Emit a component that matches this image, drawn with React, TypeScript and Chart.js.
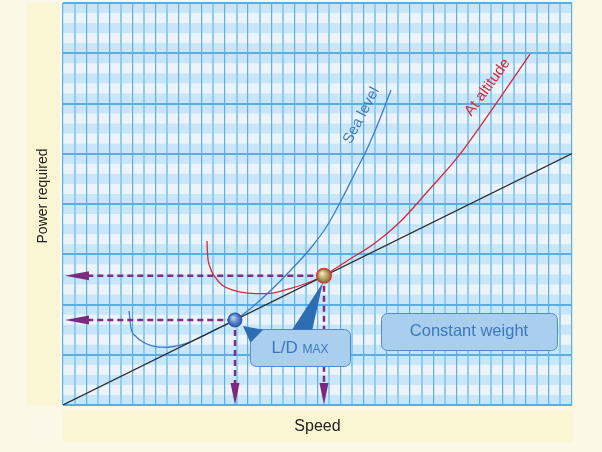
import React, { useEffect, useRef } from 'react';
import { Chart, registerables } from 'chart.js';

Chart.register(...registerables);

// ---- grid extents (grid units) ----
const X_MAX = 44;
const Y_MAX = 40;

// ---- data ----
const tangentLine = [
  { x: 0, y: 0 },
  { x: 44, y: 25.02 },
];

const seaLevel = [
  { x: 5.71, y: 9.35 }, { x: 5.88, y: 7.66 }, { x: 6.31, y: 6.82 }, { x: 6.91, y: 6.27 },
  { x: 7.78, y: 5.87 }, { x: 8.9, y: 5.74 }, { x: 10.37, y: 6.02 }, { x: 11.84, y: 6.72 },
  { x: 13.31, y: 7.56 }, { x: 14.87, y: 8.46 }, { x: 16.16, y: 9.55 }, { x: 17.63, y: 11.04 },
  { x: 19.45, y: 13.13 }, { x: 21.35, y: 15.52 }, { x: 22.82, y: 17.81 }, { x: 24.2, y: 20.7 },
  { x: 25.41, y: 23.48 }, { x: 26.28, y: 25.47 }, { x: 27.32, y: 28.26 }, { x: 28.35, y: 31.34 },
];

const atAltitude = [
  { x: 12.45, y: 16.32 }, { x: 12.49, y: 15.12 }, { x: 12.71, y: 13.73 }, { x: 13.14, y: 12.74 },
  { x: 13.74, y: 11.94 }, { x: 14.69, y: 11.44 }, { x: 15.99, y: 11.14 }, { x: 17.63, y: 11.09 },
  { x: 19.62, y: 11.59 }, { x: 21.35, y: 12.24 }, { x: 22.56, y: 12.89 }, { x: 24.81, y: 14.53 },
  { x: 26.8, y: 15.97 }, { x: 29.13, y: 18.21 }, { x: 31.55, y: 21.29 }, { x: 34.06, y: 24.58 },
  { x: 37.17, y: 29.55 }, { x: 40.37, y: 34.92 },
];

const ldMaxSea = { x: 14.87, y: 8.46 };
const ldMaxAlt = { x: 22.56, y: 12.86 };

const ARROW_LEFT_X = 0.17;
const ARROW_BASE_X = 2.1;
const ARROW_BASE_Y = 2.0;

const hDashSea = [{ x: ARROW_BASE_X, y: ldMaxSea.y }, ldMaxSea];
const hDashAlt = [{ x: ARROW_BASE_X, y: ldMaxAlt.y }, ldMaxAlt];
const vDashSea = [ldMaxSea, { x: ldMaxSea.x, y: ARROW_BASE_Y }];
const vDashAlt = [ldMaxAlt, { x: ldMaxAlt.x, y: ARROW_BASE_Y }];

const leftArrowTips = [{ x: ARROW_LEFT_X, y: ldMaxSea.y }, { x: ARROW_LEFT_X, y: ldMaxAlt.y }];
const downArrowTips = [{ x: ldMaxSea.x, y: 0 }, { x: ldMaxAlt.x, y: 0 }];

// annotation boxes (data coords)
const ldBox = { x0: 16.16, x1: 24.81, y0: 7.56, y1: 3.88 };
const cwBox = { x0: 27.49, x1: 42.7, y0: 9.15, y1: 5.47 };
const bigPointer = [{ x: 22.47, y: 12.2 }, { x: 19.8, y: 7.5 }, { x: 21.55, y: 7.5 }];
const smallPointer = [{ x: 15.56, y: 7.86 }, { x: 17.3, y: 7.5 }, { x: 16.2, y: 6.2 }];

const seaLabel = { x: 25.8, y: 28.8, angle: -62, text: 'Sea level' };
const altLabel = { x: 36.7, y: 31.6, angle: -54, text: 'At altitude' };

const FONT = '"Liberation Sans", Arial, Helvetica, sans-serif';
const BLUE_TEXT = '#3B78BF';

function roundRect(ctx: CanvasRenderingContext2D, x: number, y: number, w: number, h: number, r: number) {
  ctx.beginPath();
  ctx.moveTo(x + r, y);
  ctx.lineTo(x + w - r, y);
  ctx.arcTo(x + w, y, x + w, y + r, r);
  ctx.lineTo(x + w, y + h - r);
  ctx.arcTo(x + w, y + h, x + w - r, y + h, r);
  ctx.lineTo(x + r, y + h);
  ctx.arcTo(x, y + h, x, y + h - r, r);
  ctx.lineTo(x, y + r);
  ctx.arcTo(x, y, x + r, y, r);
  ctx.closePath();
}

const decorPlugin = {
  id: 'decor',
  beforeDraw(chart: any) {
    const { ctx, chartArea: a, scales } = chart;
    const ys = scales.y;
    ctx.save();
    ctx.fillStyle = '#FCF8E8';
    ctx.fillRect(0, 0, chart.width, chart.height);
    ctx.fillStyle = '#FAF5D2';
    ctx.fillRect(a.left - 36, a.top, 32, a.bottom - a.top);
    ctx.fillRect(a.left, a.bottom + 6, a.right - a.left + 1, 31);
    ctx.fillStyle = '#EDF3FB';
    ctx.fillRect(a.left, a.top, a.right - a.left, a.bottom - a.top);
    ctx.fillStyle = '#C8E6F8';
    for (let k = 0; k < Y_MAX; k++) {
      if ((k % 5) % 2 === 0) {
        const yt = ys.getPixelForValue(k + 1);
        const yb = ys.getPixelForValue(k);
        ctx.fillRect(a.left, yt, a.right - a.left, yb - yt);
      }
    }
    ctx.restore();
  },
  afterDraw(chart: any) {
    const { ctx, chartArea: a, scales } = chart;
    const xs = scales.x;
    const ys = scales.y;
    const px = (v: number) => xs.getPixelForValue(v);
    const py = (v: number) => ys.getPixelForValue(v);
    ctx.save();

    // arrowheads
    ctx.fillStyle = '#7B2A82';
    for (const t of leftArrowTips) {
      const x = px(t.x), y = py(t.y);
      ctx.beginPath();
      ctx.moveTo(x, y);
      ctx.lineTo(x + 24, y - 4.5);
      ctx.lineTo(x + 24, y + 4.5);
      ctx.closePath();
      ctx.fill();
    }
    for (const t of downArrowTips) {
      const x = px(t.x), y = py(t.y);
      ctx.beginPath();
      ctx.moveTo(x, y);
      ctx.lineTo(x - 4.5, y - 22);
      ctx.lineTo(x + 4.5, y - 22);
      ctx.closePath();
      ctx.fill();
    }

    // boxes
    const drawBox = (b: any) => {
      const x0 = px(b.x0), x1 = px(b.x1), y0 = py(b.y0), y1 = py(b.y1);
      roundRect(ctx, x0 + 0.5, y0 + 0.5, x1 - x0, y1 - y0, 6);
      ctx.fillStyle = '#A9CEEE';
      ctx.fill();
      ctx.strokeStyle = '#4F8DCB';
      ctx.lineWidth = 1;
      ctx.stroke();
    };
    drawBox(ldBox);
    drawBox(cwBox);

    // pointers
    ctx.fillStyle = '#2E6DB4';
    for (const tri of [bigPointer, smallPointer]) {
      ctx.beginPath();
      ctx.moveTo(px(tri[0].x), py(tri[0].y));
      ctx.lineTo(px(tri[1].x), py(tri[1].y));
      ctx.lineTo(px(tri[2].x), py(tri[2].y));
      ctx.closePath();
      ctx.fill();
    }

    // dots
    const dot = (p: any, inner: string, mid: string, outer: string, border: string, r: number, bw: number) => {
      const x = px(p.x), y = py(p.y);
      const g = ctx.createRadialGradient(x - r * 0.3, y - r * 0.35, r * 0.1, x, y, r);
      g.addColorStop(0, inner);
      g.addColorStop(0.55, mid);
      g.addColorStop(1, outer);
      ctx.beginPath();
      ctx.arc(x, y, r, 0, Math.PI * 2);
      ctx.fillStyle = g;
      ctx.fill();
      ctx.lineWidth = bw;
      ctx.strokeStyle = border;
      ctx.stroke();
    };
    dot(ldMaxSea, '#B9CFF0', '#5E86CC', '#2A55A2', '#2B58A6', 7, 1);
    dot(ldMaxAlt, '#EDE3BC', '#B9A264', '#7C6630', '#D83A3A', 7.3, 1.4);

    // box texts
    ctx.textBaseline = 'alphabetic';
    ctx.fillStyle = BLUE_TEXT;
    {
      const cx = (px(ldBox.x0) + px(ldBox.x1)) / 2;
      const base = py(ldBox.y0) + 23.5;
      ctx.font = `17px ${FONT}`;
      const w1 = ctx.measureText('L/D ').width;
      ctx.font = `12px ${FONT}`;
      const w2 = ctx.measureText('MAX').width;
      const start = cx - (w1 + w2) / 2;
      ctx.textAlign = 'left';
      ctx.font = `17px ${FONT}`;
      ctx.fillText('L/D ', start, base);
      ctx.font = `12px ${FONT}`;
      ctx.fillText('MAX', start + w1, base);
    }
    {
      const cx = (px(cwBox.x0) + px(cwBox.x1)) / 2;
      const cy = (py(cwBox.y0) + py(cwBox.y1)) / 2;
      ctx.font = `16.5px ${FONT}`;
      ctx.textAlign = 'center';
      ctx.textBaseline = 'middle';
      ctx.fillText('Constant weight', cx, cy);
    }

    // curve labels
    const rotText = (l: any, color: string) => {
      ctx.save();
      ctx.translate(px(l.x), py(l.y));
      ctx.rotate((l.angle * Math.PI) / 180);
      ctx.font = `15px ${FONT}`;
      ctx.fillStyle = color;
      ctx.textAlign = 'center';
      ctx.textBaseline = 'middle';
      ctx.fillText(l.text, 0, 0);
      ctx.restore();
    };
    rotText(seaLabel, BLUE_TEXT);
    rotText(altLabel, '#D12A3A');

    // axis titles
    ctx.fillStyle = '#222222';
    ctx.font = `16px ${FONT}`;
    ctx.textAlign = 'center';
    ctx.textBaseline = 'middle';
    ctx.fillText('Speed', (a.left + a.right) / 2, a.bottom + 22);
    ctx.save();
    ctx.translate(a.left - 20, 196);
    ctx.rotate(-Math.PI / 2);
    ctx.font = `14px ${FONT}`;
    ctx.fillText('Power required', 0, 0);
    ctx.restore();

    ctx.restore();
  },
};

export default function App() {
  const ref = useRef<HTMLCanvasElement>(null);
  useEffect(() => {
    document.body.style.margin = '0';
    const dashStyle = {
      borderColor: '#7E2C86',
      borderWidth: 2.5,
      borderDash: [6, 4],
      pointRadius: 0,
      fill: false,
    };
    const chart = new Chart(ref.current as HTMLCanvasElement, {
      type: 'line',
      data: {
        datasets: [
          { label: 'hSea', data: hDashSea, ...dashStyle },
          { label: 'hAlt', data: hDashAlt, ...dashStyle },
          { label: 'vSea', data: vDashSea, ...dashStyle },
          { label: 'vAlt', data: vDashAlt, ...dashStyle },
          { label: 'Tangent', data: tangentLine, borderColor: '#2A2A2A', borderWidth: 1.2, pointRadius: 0 },
          {
            label: 'At altitude', data: atAltitude, borderColor: '#D22B3C', borderWidth: 1.3,
            pointRadius: 0, cubicInterpolationMode: 'monotone',
          },
          {
            label: 'Sea level', data: seaLevel, borderColor: '#3C7DC9', borderWidth: 1.3,
            pointRadius: 0, cubicInterpolationMode: 'monotone',
          },
        ] as any,
      },
      options: {
        responsive: false,
        animation: false,
        parsing: false as any,
        layout: { padding: { left: 63, right: 30, top: 3, bottom: 47 } },
        plugins: { legend: { display: false }, tooltip: { enabled: false } },
        events: [],
        scales: {
          x: {
            type: 'linear',
            min: 0,
            max: X_MAX,
            ticks: { display: false, stepSize: 1 },
            border: { display: false },
            grid: {
              drawTicks: false,
              color: (c: any) => (c.index % 2 ? '#8FCDF0' : '#5DB0E2'),
              lineWidth: (c: any) => (c.index % 2 ? 2 : 1.2),
            },
          },
          y: {
            type: 'linear',
            min: 0,
            max: Y_MAX,
            ticks: { display: false, stepSize: 5 },
            border: { display: false },
            grid: { drawTicks: false, color: '#5AAEE0', lineWidth: 2 },
          },
        },
      },
      plugins: [decorPlugin],
    });
    return () => chart.destroy();
  }, []);
  return (
    <div style={{ width: 602, height: 452 }}>
      <canvas ref={ref} width={602} height={452} style={{ display: 'block' }} />
    </div>
  );
}
